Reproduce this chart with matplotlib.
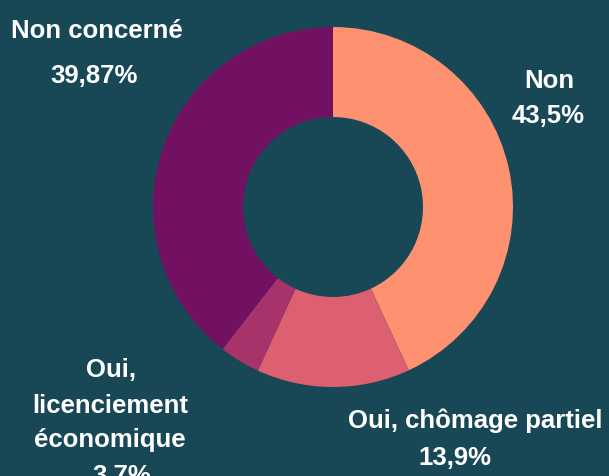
import matplotlib.pyplot as plt

# donut data (clockwise from top)
labels = ["Non", "Oui, chômage partiel", "Oui, licenciement économique", "Non concerné"]
values = [43.5, 13.9, 3.7, 39.87]
colors = ["#fd9170", "#dc606f", "#a8336b", "#721062"]

BG = "#184856"
W, H = 609, 477

fig = plt.figure(figsize=(W / 100, H / 100), dpi=100, facecolor=BG)
ax = fig.add_axes([0, 0, 1, 1])
ax.set_facecolor(BG)

# work in pixel units, y measured up from the bottom
ax.pie(values, colors=colors, startangle=90, counterclock=False,
       center=(333, H - 208), radius=180,
       wedgeprops=dict(width=90, linewidth=0))
ax.set_xlim(0, W)
ax.set_ylim(0, H)
ax.set_aspect("equal")
ax.axis("off")

txt = dict(color="white", fontsize=18.5, fontweight="bold",
           family="Liberation Sans", ha="center", va="baseline")

def put(x, y, s):
    ax.text(x, H - y, s, **txt)

put(97, 38, "Non concerné")
put(94, 83, "39,87%")
put(549, 88, "Non")
put(548, 123, "43,5%")
put(111, 377, "Oui,")
put(110, 413, "licenciement")
put(110, 447, "économique")
put(122, 483, "3,7%")
put(475, 428, "Oui, chômage partiel")
put(455, 465, "13,9%")

fig.savefig("out.png", dpi=100, facecolor=BG)
